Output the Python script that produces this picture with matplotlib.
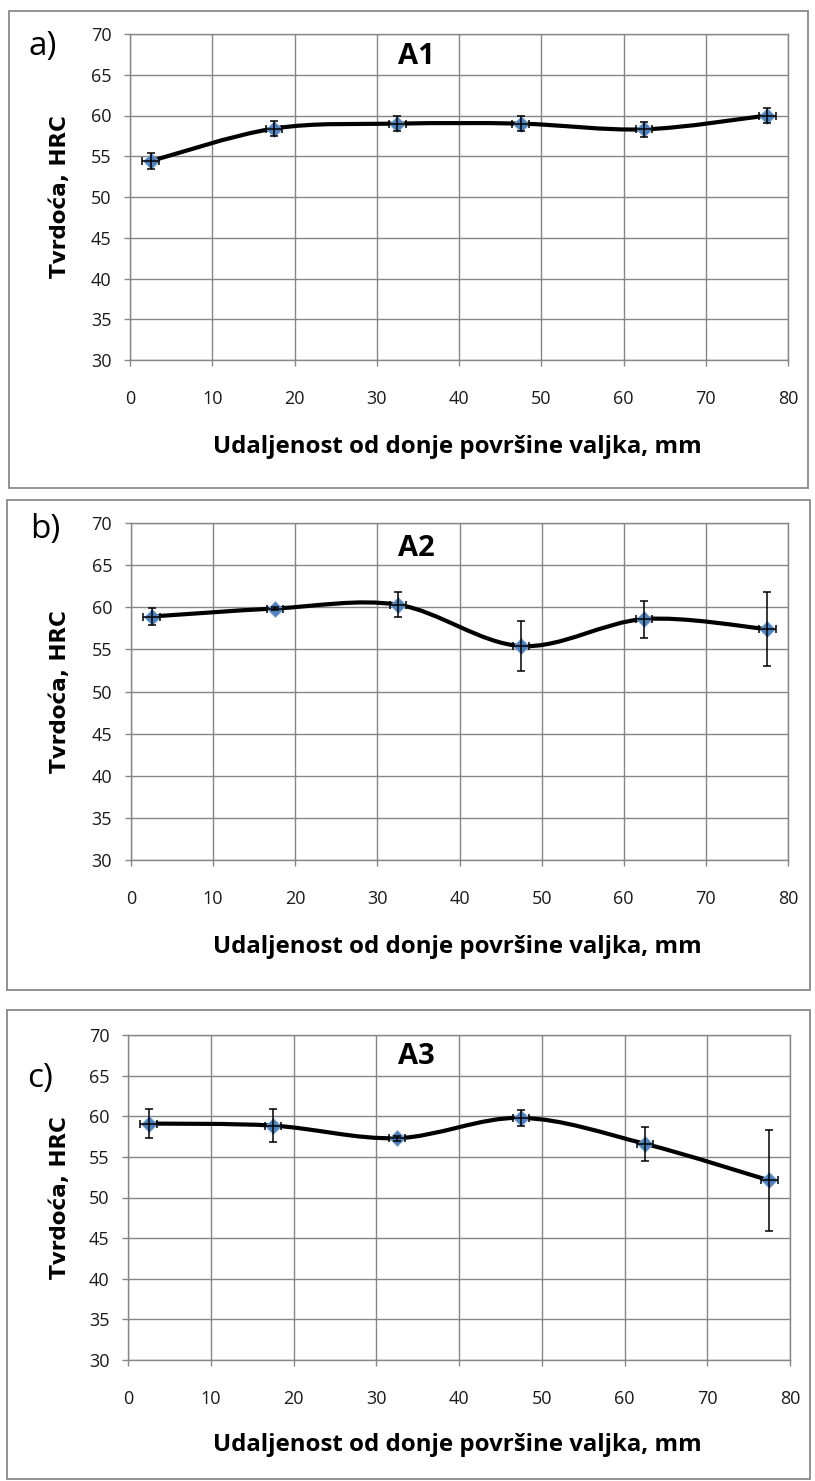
import matplotlib
matplotlib.use('Agg')
import matplotlib.pyplot as plt
from matplotlib.path import Path
from matplotlib.patches import PathPatch, Rectangle
import numpy as np

# distance from the bottom surface of the roll, mm
distance = [2.5, 17.5, 32.5, 47.5, 62.5, 77.5]
dist_err = [1.0, 1.0, 1.0, 1.0, 1.0, 1.0]

# hardness HRC, mean and spread
a1_hrc = [54.4, 58.4, 59.0, 59.0, 58.3, 60.0]
a1_err = [1.0, 0.9, 0.9, 0.9, 0.9, 0.9]
a2_hrc = [58.9, 59.85, 60.3, 55.4, 58.6, 57.4]
a2_err = [1.0, 0.2, 1.5, 3.0, 2.2, 4.4]
a3_hrc = [59.1, 58.85, 57.3, 59.8, 56.6, 52.1]
a3_err = [1.75, 2.05, 0.3, 1.0, 2.1, 6.2]

panel_names = ['A1', 'A2', 'A3']
panel_tags = ['a)', 'b)', 'c)']
x_ticks = list(range(0, 81, 10))
y_ticks = list(range(30, 71, 5))
xlabel = 'Udaljenost od donje površine valjka, mm'
ylabel = 'Tvrdoća, HRC'

W, H = 815, 1481
GRID = '#868686'
BLUE = '#4F81BD'


def fx(px):
    return px / W


def fy(py):
    return 1 - py / H


def smooth_path(x, y):
    """Excel-like smoothed line as cubic Bezier segments"""
    n = len(x)
    verts = [(x[0], y[0])]
    codes = [Path.MOVETO]
    for i in range(n - 1):
        ip = max(i - 1, 0)
        inn = min(i + 2, n - 1)
        c1 = (x[i] + (x[i + 1] - x[ip]) / 6, y[i] + (y[i + 1] - y[ip]) / 6)
        c2 = (x[i + 1] - (x[inn] - x[i]) / 6, y[i + 1] - (y[inn] - y[i]) / 6)
        verts += [c1, c2, (x[i + 1], y[i + 1])]
        codes += [Path.CURVE4] * 3
    return Path(verts, codes)


fig = plt.figure(figsize=(W / 100, H / 100), dpi=100)

# panel layout in pixels: box (x0, y0, x1, y1), axes (left, top, right, bottom)
boxes = [(9, 11, 808, 488), (7, 500, 810, 990), (7, 1010, 810, 1479)]
axes_px = [(130, 34, 788, 360), (131, 523, 788, 860), (128, 1035, 790, 1360)]
tag_pos = [(43, 46), (45, 530), (40, 1078)]
title_y = [56, 548, 1056]
xlabel_y = [447, 947, 1445]

series = [(a1_hrc, a1_err), (a2_hrc, a2_err), (a3_hrc, a3_err)]

for k in range(3):
    bx0, by0, bx1, by1 = boxes[k]
    fig.patches.append(Rectangle((fx(bx0), fy(by1)), fx(bx1 - bx0), (by1 - by0) / H,
                                 transform=fig.transFigure, fill=False,
                                 edgecolor='#8a8a8a', linewidth=1.3))

    l, t, r, b = axes_px[k]
    ax = fig.add_axes([fx(l), fy(b), fx(r - l), (b - t) / H])
    hrc, err = series[k]

    ax.set_xlim(0, 80)
    ax.set_ylim(30, 70)
    ax.set_xticks(x_ticks)
    ax.set_yticks(y_ticks)
    ax.grid(True, color=GRID, linewidth=1.0)
    ax.set_axisbelow(True)
    for s in ax.spines.values():
        s.set_color(GRID)
        s.set_linewidth(1.0)
    ax.tick_params(axis='both', direction='out', length=4.5, width=1.0, color=GRID,
                   labelsize=13, labelcolor='#1a1a1a')
    ax.tick_params(axis='x', pad=17)
    ax.tick_params(axis='y', pad=9)
    for lab in ax.get_xticklabels() + ax.get_yticklabels():
        lab.set_fontfamily('Open Sans')

    ax.add_patch(PathPatch(smooth_path(distance, hrc), fill=False,
                           edgecolor='black', linewidth=3.0, zorder=3,
                           capstyle='round', joinstyle='round'))
    ax.plot(distance, hrc, linestyle='none', marker='D', markersize=8,
            color=BLUE, markeredgecolor='#8fb0d8', markeredgewidth=0.6, zorder=4)
    ax.errorbar(distance, hrc, yerr=err, xerr=dist_err, fmt='none',
                ecolor='black', elinewidth=1.1, capsize=3.2, capthick=1.1,
                zorder=5)

    fig.text(fx(416), fy(title_y[k]), panel_names[k], ha='center', va='center',
             fontsize=21, fontweight='bold', family='Open Sans')
    fig.text(fx(tag_pos[k][0]), fy(tag_pos[k][1]), panel_tags[k], ha='center',
             va='center', fontsize=24, family='Open Sans')
    fig.text(fx(457), fy(xlabel_y[k]), xlabel, ha='center', va='center',
             fontsize=17.3, fontweight='bold', family='Open Sans')
    fig.text(fx(60), fy((t + b) / 2), ylabel, ha='center', va='center',
             rotation=90, fontsize=15.5, fontweight='bold', family='DejaVu Sans')

fig.savefig('out.png', dpi=100)
